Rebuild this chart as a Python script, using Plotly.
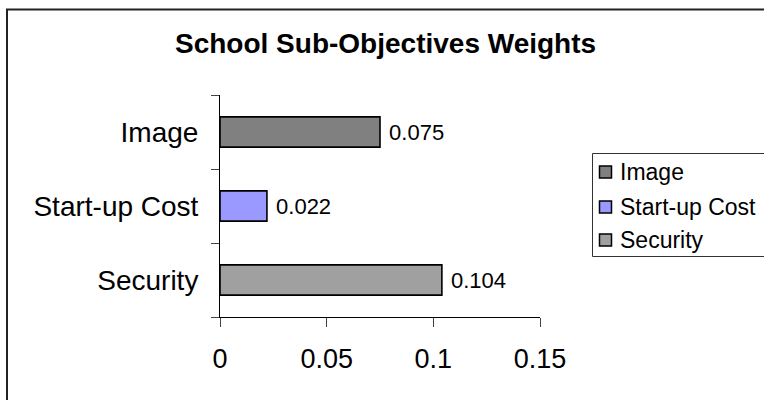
import plotly.graph_objects as go

# Sub-objective weights for the school alternative
categories = ["Image", "Start-up Cost", "Security"]
weights = [0.075, 0.022, 0.104]
colors = ["#808080", "#9999FF", "#A0A0A0"]
value_labels = ["0.075", "0.022", "0.104"]
x_ticks = [0, 0.05, 0.1, 0.15]
x_tick_text = ["0", "0.05", "0.1", "0.15"]

FONT = "Arial, Liberation Sans, sans-serif"
W, H = 764, 400
L, R, T, B = 220, 224, 95, 83
PW, PH = W - L - R, H - T - B


def px_x(p):
    return (p - L) / PW


def px_y(p):
    return (H - B - p) / PH


fig = go.Figure()
for name, val, col, lab in zip(categories, weights, colors, value_labels):
    fig.add_trace(go.Bar(
        y=[name], x=[val], orientation="h", name=name,
        marker=dict(color=col, line=dict(color="black", width=1.6)),
        width=0.41,
        text=[" " + lab], textposition="outside", constraintext="none",
        textfont=dict(family=FONT, size=22, color="black"),
        cliponaxis=False, showlegend=False,
    ))

shapes = [
    # outer chart frame
    dict(type="rect", xref="paper", yref="paper",
         x0=px_x(7), x1=px_x(800), y0=px_y(430), y1=px_y(9.5),
         line=dict(color="#222222", width=2), fillcolor="rgba(0,0,0,0)", layer="below"),
    # legend box
    dict(type="rect", xref="paper", yref="paper",
         x0=px_x(592.5), x1=px_x(790), y0=px_y(256.5), y1=px_y(153.5),
         line=dict(color="#333333", width=1), fillcolor="white"),
]
annotations = [
    dict(text="<b>School Sub-Objectives Weights</b>", xref="paper", yref="paper",
         x=px_x(385), y=px_y(44), xanchor="center", yanchor="middle",
         showarrow=False, font=dict(family=FONT, size=28, color="black")),
]

# legend entries
legend_rows = [172, 207, 240]
for name, col, yc in zip(categories, colors, legend_rows):
    shapes.append(dict(type="rect", xref="paper", yref="paper",
                       x0=px_x(599.5), x1=px_x(611.5), y0=px_y(yc + 6), y1=px_y(yc - 6),
                       line=dict(color="black", width=1.5), fillcolor=col))
    annotations.append(dict(text=name, xref="paper", yref="paper",
                            x=px_x(618), y=px_y(yc), xanchor="left", yanchor="middle",
                            showarrow=False, font=dict(family=FONT, size=23, color="black")))

fig.update_layout(
    width=W, height=H,
    margin=dict(l=L, r=R, t=T, b=B, pad=0),
    paper_bgcolor="white", plot_bgcolor="white",
    barmode="overlay",
    font=dict(family=FONT, color="black"),
    shapes=shapes, annotations=annotations,
    showlegend=False,
    xaxis=dict(range=[0, 0.15], tickvals=x_ticks, ticktext=x_tick_text,
               showgrid=False, zeroline=False, showline=True, linecolor="black", linewidth=1,
               ticks="outside", ticklen=9, tickcolor="#444444", tickwidth=1,
               ticklabelstandoff=9,
               tickfont=dict(family=FONT, size=27, color="black")),
    yaxis=dict(categoryorder="array", categoryarray=categories[::-1],
               showgrid=False, zeroline=False, showline=True, linecolor="black", linewidth=1,
               ticks="outside", ticklen=8, tickcolor="#444444", tickwidth=1,
               tickson="boundaries", ticklabelstandoff=15,
               tickfont=dict(family=FONT, size=28, color="black")),
)

fig.write_html("out.html")
